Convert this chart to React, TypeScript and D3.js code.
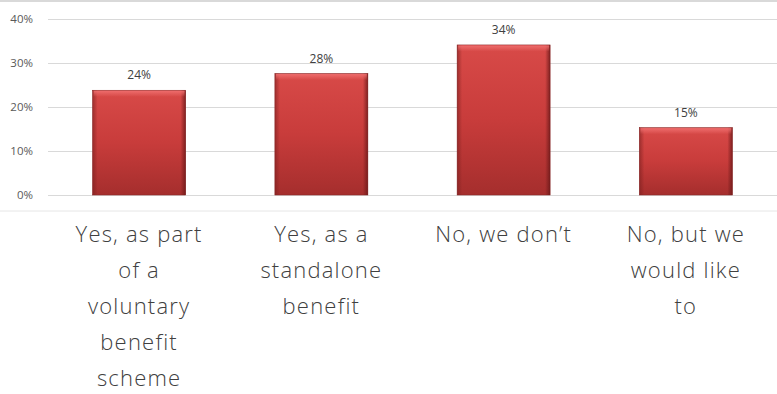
import React from "react";
import * as d3 from "d3";

const categories: string[][] = [
  ["Yes, as part", "of a", "voluntary", "benefit", "scheme"],
  ["Yes, as a", "standalone", "benefit"],
  ["No, we don\u2019t"],
  ["No, but we", "would like", "to"],
];
const values: number[] = [23.8, 27.6, 34.1, 15.3];
const valueLabels: string[] = ["24%", "28%", "34%", "15%"];
const yTicks: number[] = [0, 10, 20, 30, 40];

const W = 777;
const H = 394;
const left = 48;
const right = 777;
const top = 19;
const bottom = 195;

export default function App() {
  const x = d3
    .scaleBand<number>()
    .domain(categories.map((_, i) => i))
    .range([left, right])
    .paddingInner(0.49)
    .paddingOuter(0.245);
  const y = d3.scaleLinear().domain([0, 40]).range([bottom, top]);

  return (
    <svg
      width={W}
      height={H}
      style={{ position: "absolute", left: 0, top: 0, background: "#fff" }}
    >
      <defs>
        <linearGradient id="barFill" x1="0" y1="0" x2="0" y2="1">
          <stop offset="0" stopColor="#d84a48" />
          <stop offset="0.5" stopColor="#c83c3b" />
          <stop offset="1" stopColor="#a52e2d" />
        </linearGradient>
        <linearGradient id="sideL" x1="0" y1="0" x2="1" y2="0">
          <stop offset="0" stopColor="#7a1f1f" stopOpacity="0.6" />
          <stop offset="1" stopColor="#7a1f1f" stopOpacity="0" />
        </linearGradient>
        <linearGradient id="sideR" x1="1" y1="0" x2="0" y2="0">
          <stop offset="0" stopColor="#6a1818" stopOpacity="0.8" />
          <stop offset="1" stopColor="#6a1818" stopOpacity="0" />
        </linearGradient>
        <linearGradient id="topHi" x1="0" y1="0" x2="0" y2="1">
          <stop offset="0" stopColor="#f07070" stopOpacity="0.9" />
          <stop offset="1" stopColor="#f07070" stopOpacity="0" />
        </linearGradient>
      </defs>
      <line x1={0} x2={W} y1={1} y2={1} stroke="#d9d9d9" strokeWidth={2} />
      <line x1={0} x2={W} y1={211} y2={211} stroke="#e6e6e6" strokeWidth={1} />
      {yTicks.map((t) => (
        <g key={t}>
          <line
            x1={left}
            x2={right}
            y1={Math.round(y(t)) + 0.5}
            y2={Math.round(y(t)) + 0.5}
            stroke="#d9d9d9"
          />
          <text
            x={33}
            y={y(t)}
            dy="0.35em"
            textAnchor="end"
            fontFamily="Open Sans, sans-serif"
            fontSize={11.5}
            fill="#595959"
          >
            {t}%
          </text>
        </g>
      ))}
      {values.map((v, i) => {
        const bx = x(i)!;
        const bw = x.bandwidth();
        const by = y(v);
        const bh = bottom - by;
        return (
          <g key={i}>
            <rect x={bx} y={by} width={bw} height={bh} fill="url(#barFill)" stroke="#8a2a2a" strokeWidth={0.6} />
            <rect x={bx} y={by} width={5} height={bh} fill="url(#sideL)" />
            <rect x={bx + bw - 5} y={by} width={5} height={bh} fill="url(#sideR)" />
            <rect x={bx + 1} y={by + 0.5} width={bw - 2} height={6} fill="url(#topHi)" />
            <text
              x={bx + bw / 2}
              y={by - 15}
              dy="0.35em"
              textAnchor="middle"
              fontFamily="Open Sans, sans-serif"
              fontSize={12}
              fill="#404040"
            >
              {valueLabels[i]}
            </text>
          </g>
        );
      })}
      {categories.map((lines, i) => (
        <text
          key={i}
          x={x(i)! + x.bandwidth() / 2}
          textAnchor="middle"
          fontFamily="Open Sans, sans-serif"
          fontSize={22}
          fontWeight={300}
          letterSpacing={1.2}
          fill="#404040"
        >
          {lines.map((l, j) => (
            <tspan key={j} x={x(i)! + x.bandwidth() / 2} y={242 + j * 36}>
              {l}
            </tspan>
          ))}
        </text>
      ))}
    </svg>
  );
}
